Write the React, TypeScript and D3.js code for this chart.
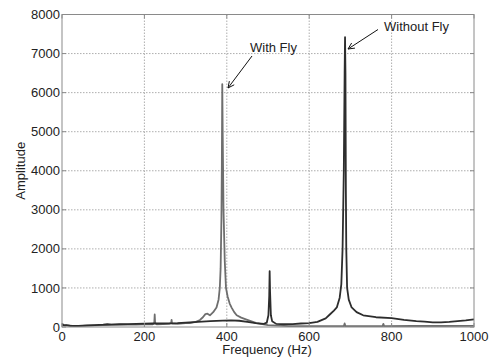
import React from "react";
import * as d3 from "d3";

const withFlyFreq = [0,5,15,30,50,80,100,120,150,180,200,220,224,225,226,230,260,265,266,267,280,300,310,325,335,342,348,353,359,367,375,380,383,385,387,388,389,390,392,395,398,402,407,412,418,424,435,448,472,500,550,600,650,684,686,688,750,778,780,782,850,920,1000];
const withFlyAmp = [80,50,40,20,30,40,50,60,60,60,70,70,100,320,100,70,80,100,180,90,80,100,100,130,180,250,330,340,300,380,500,700,1000,1500,2800,4200,6220,5000,3000,1700,1000,780,600,490,380,300,240,190,100,50,20,20,20,20,90,20,20,20,80,20,25,25,30];

const withoutFlyFreq = [0,5,10,20,40,60,80,100,110,120,140,160,180,200,220,250,280,300,330,360,390,410,430,450,470,490,497,501,503,504,505,507,510,520,540,560,580,600,620,640,650,660,667,674,678,681,684,686,687,688,689,690,692,696,703,715,731,762,800,830,860,880,900,920,940,960,980,1000];
const withoutFlyAmp = [60,40,50,30,30,40,50,60,70,60,70,75,80,85,90,95,100,110,130,150,165,170,160,130,100,80,110,300,800,1430,900,300,150,80,70,75,90,100,130,220,320,420,500,750,1100,2000,4000,6500,7420,6500,3500,2000,1000,700,500,380,300,250,225,180,150,135,120,120,130,150,170,195];

const xTicks = [0, 200, 400, 600, 800, 1000];
const yTicks = [0, 1000, 2000, 3000, 4000, 5000, 6000, 7000, 8000];

const W = 489, H = 358;
const L = 62, R = 474, T = 14.5, B = 327;

export default function App() {
  const x = d3.scaleLinear().domain([0, 1000]).range([L, R]);
  const y = d3.scaleLinear().domain([0, 8000]).range([B, T]);
  const line = d3.line<[number, number]>().x(d => x(d[0])).y(d => y(d[1]));
  const withFly = withFlyFreq.map((f, i) => [f, withFlyAmp[i]] as [number, number]);
  const withoutFly = withoutFlyFreq.map((f, i) => [f, withoutFlyAmp[i]] as [number, number]);
  const font = "'Liberation Sans', Arial, sans-serif";
  const tc = "#222";

  const arrow = (x1: number, y1: number, x2: number, y2: number) => {
    const a = Math.atan2(y2 - y1, x2 - x1);
    const len = 7, sp = 0.45;
    const p1 = [x2 - len * Math.cos(a - sp), y2 - len * Math.sin(a - sp)];
    const p2 = [x2 - len * Math.cos(a + sp), y2 - len * Math.sin(a + sp)];
    return (
      <g stroke="#111" strokeWidth={1} fill="none">
        <line x1={x1} y1={y1} x2={x2} y2={y2} />
        <polyline points={`${p1[0]},${p1[1]} ${x2},${y2} ${p2[0]},${p2[1]}`} />
      </g>
    );
  };

  return (
    <svg width={W} height={H} style={{ position: "absolute", left: 0, top: 0, background: "#fff" }} fontFamily={font}>
      <rect x={0} y={0} width={W} height={H} fill="#fff" />
      {xTicks.slice(1, -1).map(t => (
        <line key={"gx" + t} x1={x(t)} x2={x(t)} y1={T} y2={B} stroke="#999" strokeWidth={0.8} strokeDasharray="1.5,1.5" />
      ))}
      {yTicks.slice(1, -1).map(t => (
        <line key={"gy" + t} x1={L} x2={R} y1={y(t)} y2={y(t)} stroke="#999" strokeWidth={0.8} strokeDasharray="1.5,1.5" />
      ))}
      <path d={line(withFly) || ""} fill="none" stroke="#6e6e6e" strokeWidth={1.8} strokeLinejoin="round" />
      <path d={line(withoutFly) || ""} fill="none" stroke="#2d2d2d" strokeWidth={1.8} strokeLinejoin="round" />
      <rect x={L} y={T} width={R - L} height={B - T} fill="none" stroke="#8a8a8a" strokeWidth={1} />
      {xTicks.map(t => (
        <g key={"tx" + t}>
          <line x1={x(t)} x2={x(t)} y1={B} y2={B - 4} stroke="#8a8a8a" />
          <line x1={x(t)} x2={x(t)} y1={T} y2={T + 4} stroke="#8a8a8a" />
          <text x={x(t)} y={341} textAnchor="middle" fontSize={13} fill={tc}>{t}</text>
        </g>
      ))}
      {yTicks.map(t => (
        <g key={"ty" + t}>
          <line x1={L} x2={L + 4} y1={y(t)} y2={y(t)} stroke="#8a8a8a" />
          <line x1={R} x2={R - 4} y1={y(t)} y2={y(t)} stroke="#8a8a8a" />
          <text x={60} y={y(t) + 4.6} textAnchor="end" fontSize={13} fill={tc}>{t}</text>
        </g>
      ))}
      <text x={267} y={354} textAnchor="middle" fontSize={13} fill={tc}>Frequency (Hz)</text>
      <text transform={`translate(25,${(T + B) / 2}) rotate(-90)`} textAnchor="middle" fontSize={13} fill={tc}>Amplitude</text>
      <text x={250} y={51.5} fontSize={13} fill={tc}>With Fly</text>
      {arrow(252, 56, 228, 88)}
      <text x={384} y={30.5} fontSize={13} fill={tc}>Without Fly</text>
      {arrow(378, 29.5, 348, 49)}
    </svg>
  );
}
